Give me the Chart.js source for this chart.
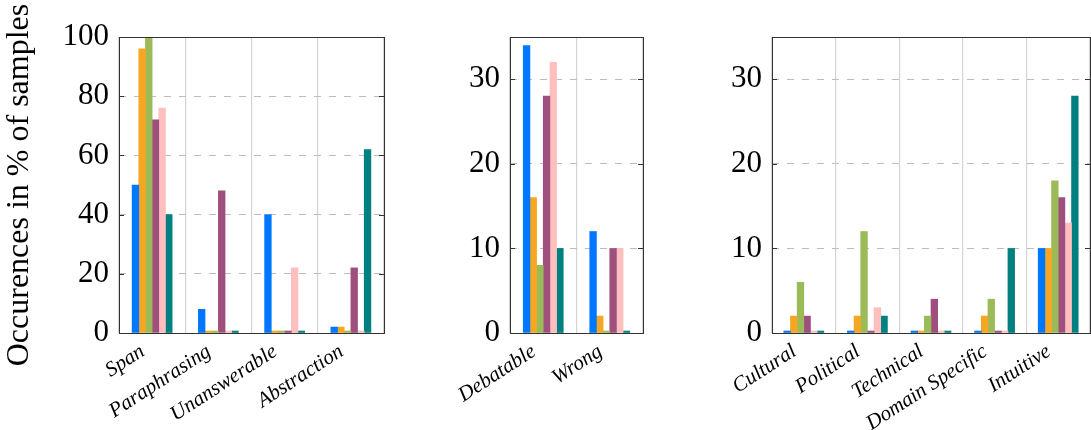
<!DOCTYPE html>
<html><head><meta charset="utf-8">
<script src="https://cdn.jsdelivr.net/npm/chart.js@4.4.1/dist/chart.umd.min.js"></script>
<style>
html,body{margin:0;padding:0;background:#fff;}
#wrap{position:relative;width:1091px;height:430px;overflow:hidden;background:#fff;}
canvas{position:absolute;top:0;}
</style></head><body>
<div id="wrap">
<canvas id="c1" width="400" height="430" style="left:0px"></canvas>
<canvas id="c2" width="240" height="430" style="left:420px"></canvas>
<canvas id="c3" width="401" height="430" style="left:690px"></canvas>
</div>
<script>
// ---- data ----
const seriesNames = ['Series 1','Series 2','Series 3','Series 4','Series 5','Series 6'];
const seriesColors = ['#0077ff','#f5a623','#9bbb59','#9e4f7d','#ffbfbf','#008080'];

const catsA = ['Span','Paraphrasing','Unanswerable','Abstraction'];
const a1 = [50, 8, 40, 2];
const a2 = [96, 0, 0, 2];
const a3 = [100, 0, 0, 0];
const a4 = [72, 48, 0, 22];
const a5 = [76, 0, 22, 0];
const a6 = [40, 0, 0, 62];
const ticksA = [0, 20, 40, 60, 80, 100];

const catsB = ['Debatable','Wrong'];
const b1 = [34, 12];
const b2 = [16, 2];
const b3 = [8, 0];
const b4 = [28, 10];
const b5 = [32, 10];
const b6 = [10, 0];
const ticksB = [0, 10, 20, 30];

const catsC = ['Cultural','Political','Technical','Domain Specific','Intuitive'];
const c1 = [0, 0, 0, 0, 10];
const c2 = [2, 2, 0, 2, 10];
const c3 = [6, 12, 2, 4, 18];
const c4 = [2, 0, 4, 0, 16];
const c5 = [0, 3, 0, 0, 13];
const c6 = [0, 2, 0, 10, 28];
const ticksC = [0, 10, 20, 30];

const yTitle = 'Occurences in % of samples';

// ---- drawing ----
const framePlugin = {
  id: 'frame',
  afterDatasetsDraw(chart) {
    const {ctx, chartArea: a, scales: {x, y}} = chart;
    ctx.save();
    ctx.strokeStyle = '#333';
    ctx.lineWidth = 1;
    ctx.beginPath();
    y.ticks.forEach(t => {
      const py = Math.round(y.getPixelForValue(t.value)) + 0.5;
      ctx.moveTo(a.left, py); ctx.lineTo(a.left + 5, py);
      ctx.moveTo(a.right, py); ctx.lineTo(a.right - 5, py);
    });
    ctx.stroke();
    ctx.strokeRect(Math.round(a.left) + 0.5, Math.round(a.top) + 0.5,
                   Math.round(a.right - a.left), Math.round(a.bottom - a.top));
    // rotated category labels (north-east anchored, like the original)
    ctx.fillStyle = '#000';
    ctx.font = 'italic 21px "Liberation Serif", serif';
    ctx.textAlign = 'right';
    ctx.textBaseline = 'top';
    chart.data.labels.forEach((lab, i) => {
      const px = x.getPixelForValue(i);
      ctx.save();
      ctx.translate(px - 15, a.bottom + 8);
      ctx.rotate(-33 * Math.PI / 180);
      ctx.fillText(lab, 0, 0);
      ctx.restore();
    });
    ctx.restore();
  }
};

function makeChart(id, cats, series, yMax, yTicks, yWidth, padRight, withTitle) {
  const datasets = series.map((d, i) => ({
    label: seriesNames[i],
    data: d,
    backgroundColor: seriesColors[i],
    borderWidth: 0,
    barThickness: 6.67,
    minBarLength: 2
  }));
  return new Chart(document.getElementById(id), {
    type: 'bar',
    data: {labels: cats, datasets},
    plugins: [framePlugin],
    options: {
      responsive: false,
      animation: false,
      layout: {padding: {left: 0, top: 37, right: padRight, bottom: 0}},
      plugins: {legend: {display: false}, tooltip: {enabled: false}},
      scales: {
        x: {
          offset: true,
          grid: {offset: true, color: '#d4d4d4', lineWidth: 1.2, drawTicks: false},
          border: {display: false},
          ticks: {display: false, autoSkip: false},
          afterFit: s => { s.height = 97; }
        },
        y: {
          min: 0, max: yMax,
          afterBuildTicks: s => { s.ticks = yTicks.map(v => ({value: v})); },
          grid: {color: '#bdbdbd', lineWidth: 1, drawTicks: false},
          border: {display: false, dash: [7, 8]},
          ticks: {
            padding: 10, color: '#000',
            font: {family: '"Liberation Serif", serif', size: 31}
          },
          title: {
            display: withTitle, text: yTitle, color: '#000',
            font: {family: '"Liberation Serif", serif', size: 32},
            padding: {top: 0, bottom: 0}
          },
          afterFit: s => { s.width = yWidth; }
        }
      }
    }
  });
}

makeChart('c1', catsA, [a1, a2, a3, a4, a5, a6], 100, ticksA, 119, 16, true);
makeChart('c2', catsB, [b1, b2, b3, b4, b5, b6], 35, ticksB, 90, 17, false);
makeChart('c3', catsC, [c1, c2, c3, c4, c5, c6], 35, ticksC, 82, 1, false);
</script>
</body></html>
